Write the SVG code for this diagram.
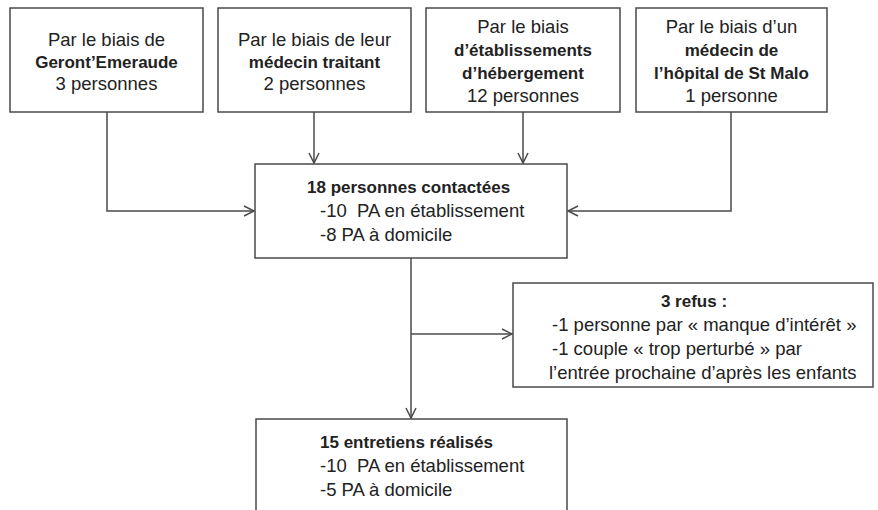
<svg xmlns="http://www.w3.org/2000/svg" width="878" height="510" viewBox="0 0 878 510">
<style>
.box{fill:#fff;stroke:#4a4a4a;stroke-width:1.5}
.t{font-family:"Liberation Sans",Arial,sans-serif;font-size:18.5px;fill:#222;white-space:pre}
.c{text-anchor:middle}
.b{font-weight:bold;font-size:17px}
.ln{fill:none;stroke:#4a4a4a;stroke-width:1.5}
</style>
<defs>
<marker id="ah" markerUnits="userSpaceOnUse" markerWidth="14" markerHeight="14" refX="11" refY="6" orient="auto" viewBox="0 0 14 12">
<path d="M1,1 L11,6 L1,11" fill="none" stroke="#4a4a4a" stroke-width="1.5"/>
</marker>
</defs>
<rect width="878" height="510" fill="#fff"/>
<g id="connectors">
<polyline class="ln" points="107,112 107,211 254,211" marker-end="url(#ah)"/>
<line class="ln" x1="314" y1="112" x2="314" y2="163" marker-end="url(#ah)"/>
<line class="ln" x1="523" y1="112" x2="523" y2="163" marker-end="url(#ah)"/>
<polyline class="ln" points="731,112 731,211 568,211" marker-end="url(#ah)"/>
<line class="ln" x1="411" y1="258" x2="411" y2="418" marker-end="url(#ah)"/>
<line class="ln" x1="411" y1="334" x2="512" y2="334" marker-end="url(#ah)"/>
</g>
<g id="n1">
<rect class="box" x="10" y="8" width="193" height="104"/>
<text class="t c" x="106.5" y="46">Par le biais de</text>
<text class="t c b" x="106.5" y="68">Geront’Emeraude</text>
<text class="t c" x="106.5" y="90">3 personnes</text>
</g>
<g id="n2">
<rect class="box" x="218" y="8" width="193" height="104"/>
<text class="t c" x="314.5" y="46">Par le biais de leur</text>
<text class="t c b" x="314.5" y="68">médecin traitant</text>
<text class="t c" x="314.5" y="90">2 personnes</text>
</g>
<g id="n3">
<rect class="box" x="426" y="8" width="194" height="104"/>
<text class="t c" x="523" y="33">Par le biais</text>
<text class="t c b" x="523" y="56">d’établissements</text>
<text class="t c b" x="523" y="79">d’hébergement</text>
<text class="t c" x="523" y="102">12 personnes</text>
</g>
<g id="n4">
<rect class="box" x="636" y="8" width="191" height="104"/>
<text class="t c" x="731.5" y="33">Par le biais d’un</text>
<text class="t c b" x="731.5" y="56">médecin de</text>
<text class="t c b" x="731.5" y="79">l’hôpital de St Malo</text>
<text class="t c" x="731.5" y="102">1 personne</text>
</g>
<g id="n5">
<rect class="box" x="255" y="164" width="312" height="94"/>
<text class="t b" x="307" y="193">18 personnes contactées</text>
<text class="t" x="320" y="217">-10  PA en établissement</text>
<text class="t" x="320" y="241">-8 PA à domicile</text>
</g>
<g id="n6">
<rect class="box" x="513" y="283" width="360" height="104"/>
<text class="t c b" x="694" y="307">3 refus :</text>
<text class="t" x="552" y="331">-1 personne par « manque d’intérêt »</text>
<text class="t" x="552" y="355">-1 couple « trop perturbé » par</text>
<text class="t" x="549" y="379">l’entrée prochaine d’après les enfants</text>
</g>
<g id="n7">
<rect class="box" x="256" y="419" width="311" height="110"/>
<text class="t b" x="320" y="448">15 entretiens réalisés</text>
<text class="t" x="320" y="472">-10  PA en établissement</text>
<text class="t" x="320" y="496">-5 PA à domicile</text>
</g>
</svg>
